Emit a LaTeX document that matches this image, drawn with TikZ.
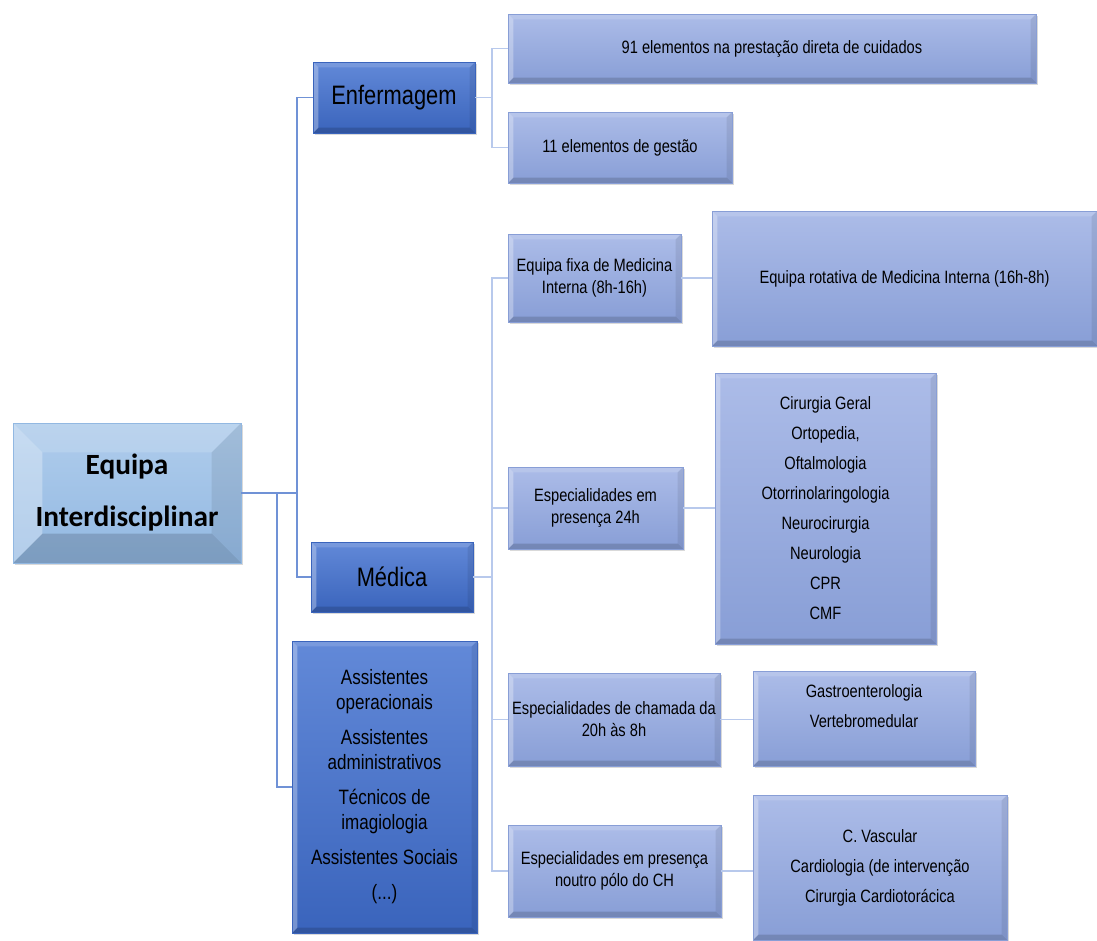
\documentclass[tikz,border=0pt]{standalone}
\usepackage{fontspec}
\newfontfamily\schmal{Liberation Sans}[FakeStretch=0.82]
\newfontfamily\calib{Carlito}
\usetikzlibrary{shadows}
\definecolor{linie}{RGB}{112,146,214}
\definecolor{liniehell}{RGB}{184,201,236}
\definecolor{wurzeloben}{RGB}{176,205,236}
\definecolor{wurzelunten}{RGB}{146,184,226}
\definecolor{dunkeloben}{RGB}{98,137,216}
\definecolor{dunkelunten}{RGB}{58,100,188}
\definecolor{helloben}{RGB}{172,188,232}
\definecolor{hellunten}{RGB}{136,158,214}

\begin{document}
\begin{tikzpicture}[x=0.75pt, y=-0.75pt, % 1 Pixel = 0.75pt
  bevel/.store in=\bevw, bevel=4pt,
  kasten/.style={rectangle, inner sep=2pt, align=center, text=black,
    drop shadow={shadow xshift=1.5pt, shadow yshift=-1.5pt, opacity=0.3},
    path picture={
      \coordinate (nw) at (path picture bounding box.north west);
      \coordinate (ne) at (path picture bounding box.north east);
      \coordinate (sw) at (path picture bounding box.south west);
      \coordinate (se) at (path picture bounding box.south east);
      \fill[white,opacity=0.3] (nw) -- ([shift={(\bevw,-\bevw)}]nw) -- ([shift={(\bevw,\bevw)}]sw) -- (sw) -- cycle;
      \fill[white,opacity=0.15] (nw) -- (ne) -- ([shift={(-\bevw,-\bevw)}]ne) -- ([shift={(\bevw,-\bevw)}]nw) -- cycle;
      \fill[black,opacity=0.08] (ne) -- (se) -- ([shift={(-\bevw,\bevw)}]se) -- ([shift={(-\bevw,-\bevw)}]ne) -- cycle;
      \fill[black,opacity=0.15] (sw) -- (se) -- ([shift={(-\bevw,\bevw)}]se) -- ([shift={(\bevw,\bevw)}]sw) -- cycle;
    }},
  wurzel/.style={kasten, bevel=22pt, draw=wurzelunten, top color=wurzeloben, bottom color=wurzelunten,
    font=\calib\bfseries\fontsize{22}{39}\selectfont},
  dunkel/.style={kasten, draw=dunkelunten, top color=dunkeloben, bottom color=dunkelunten},
  hell/.style={kasten, draw=hellunten, top color=helloben, bottom color=hellunten,
    font=\schmal\fontsize{13.4}{16.5}\selectfont},
  liste/.style={font=\schmal\fontsize{13.4}{22.5}\selectfont},
  verb1/.style={draw=linie, line width=1.2pt},
  verb2/.style={draw=liniehell, line width=1.2pt}]

\useasboundingbox (0,0) rectangle (1097,940);

% Wurzel
\node[wurzel, minimum width=171pt, minimum height=105pt] (root) at (127,493) {Equipa\\Interdisciplinar};

% erste Ebene
\node[dunkel, minimum width=121.5pt, minimum height=53.25pt, font=\schmal\fontsize{20}{24}\selectfont] (enf) at (394,97.5) {Enfermagem};
\node[dunkel, minimum width=121.5pt, minimum height=52.5pt, font=\schmal\fontsize{20}{24}\selectfont] (med) at (392,577) {Médica};
\node[dunkel, minimum width=138.75pt, minimum height=219pt, font=\schmal\fontsize{15.6}{18.75}\selectfont] (ass) at (384.5,787)
  {Assistentes\\operacionais\\[7.5pt]Assistentes\\administrativos\\[7.5pt]Técnicos de\\imagiologia\\[7.5pt]Assistentes Sociais\\[7.5pt](...)};

% Enfermagem
\node[hell, minimum width=396pt, minimum height=51.75pt] (e1) at (772,48.5) {91 elementos na prestação direta de cuidados};
\node[hell, minimum width=168pt, minimum height=53.25pt] (e2) at (620,147.5) {11 elementos de gestão};

% Médica
\node[hell, minimum width=129.75pt, minimum height=66pt] (m1) at (594.5,278) {Equipa fixa de Medicina\\Interna (8h-16h)};
\node[hell, minimum width=288.75pt, minimum height=101.25pt] (r1) at (904.5,278.5) {Equipa rotativa de Medicina Interna (16h-8h)};
\node[hell, minimum width=131.25pt, minimum height=61.5pt] (m2) at (595.5,508) {Especialidades em\\presença 24h};
\node[hell, liste, minimum width=165.75pt, minimum height=203.25pt] (r2) at (825.5,508.5)
  {Cirurgia Geral\\Ortopedia,\\Oftalmologia\\Otorrinolaringologia\\Neurocirurgia\\Neurologia\\CPR\\CMF};
\node[hell, minimum width=159pt, minimum height=69.75pt] (m3) at (614,719.5) {Especialidades de chamada da\\20h às 8h};
\node[hell, liste, minimum width=166.5pt, minimum height=71.25pt, text depth=18pt] (r3) at (864,718.5) {Gastroenterologia\\Vertebromedular};
\node[hell, minimum width=159.75pt, minimum height=69pt] (m4) at (614.5,871) {Especialidades em presença\\noutro pólo do CH};
\node[hell, liste, minimum width=190.5pt, minimum height=108.75pt] (r4) at (880,867.5) {C. Vascular\\Cardiologia (de intervenção\\Cirurgia Cardiotorácica};

% Verbindungen
\coordinate (k1) at (297,0);
\coordinate (k2) at (277,0);
\coordinate (k3) at (492,0);
\draw[verb1] (root.east) -- (root.east -| k1) |- (enf.west);
\draw[verb1] (root.east -| k1) |- (med.west);
\draw[verb1] (root.east -| k2) |- (ass.west);
\draw[verb2] (enf.east) -- (enf.east -| k3) |- (e1.west);
\draw[verb2] (enf.east -| k3) |- (e2.west);
\draw[verb2] (med.east) -- (med.east -| k3);
\foreach \m in {m1,m2,m3,m4} {
  \draw[verb2] (med.east -| k3) |- (\m.west); % Zweige Médica
}
\foreach \m/\r in {m1/r1, m2/r2, m3/r3, m4/r4} {
  \draw[verb2] (\m.east) -- (\m.east -| \r.west); % zur Liste
}

\end{tikzpicture}
\end{document}
